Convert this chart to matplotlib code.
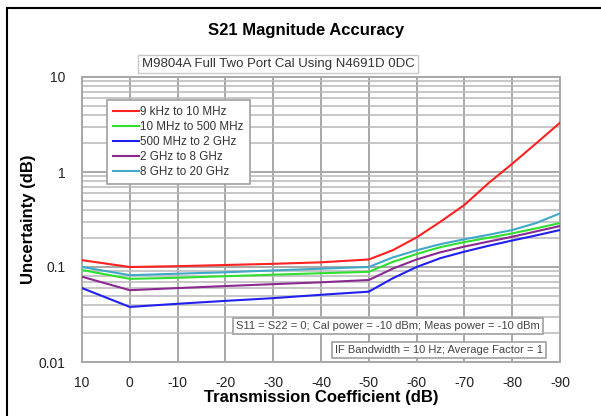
import matplotlib.pyplot as plt
from matplotlib.ticker import FixedLocator, FixedFormatter, LogLocator, NullFormatter
from matplotlib.lines import Line2D

plt.rcParams['font.family'] = ['Liberation Sans', 'DejaVu Sans']

# Transmission coefficient (dB)
trans = [10, 0, -10, -20, -30, -40, -50, -55, -60, -65, -70, -75, -80, -85, -90]

# Uncertainty (dB) per frequency band
red = [0.118, 0.100, 0.102, 0.105, 0.108, 0.112, 0.120, 0.150, 0.205, 0.30, 0.45,
       0.76, 1.22, 2.0, 3.3]
green = [0.093, 0.075, 0.077, 0.080, 0.083, 0.086, 0.089, 0.113, 0.137, 0.162, 0.183,
         0.203, 0.226, 0.255, 0.29]
blue = [0.060, 0.038, 0.041, 0.044, 0.047, 0.051, 0.055, 0.076, 0.100, 0.124, 0.145,
        0.167, 0.190, 0.215, 0.245]
purple = [0.079, 0.057, 0.060, 0.063, 0.066, 0.069, 0.073, 0.096, 0.120, 0.143, 0.164,
          0.185, 0.208, 0.237, 0.27]
cyan = [0.100, 0.082, 0.085, 0.088, 0.092, 0.096, 0.100, 0.126, 0.150, 0.174, 0.196,
        0.218, 0.245, 0.290, 0.367]

labels = ['9 kHz to 10 MHz', '10 MHz to 500 MHz', '500 MHz to 2 GHz',
          '2 GHz to 8 GHz', '8 GHz to 20 GHz']
colors = ['#ff2020', '#30e030', '#2020f0', '#8a2a90', '#40a8c8']

x_ticks = [10, 0, -10, -20, -30, -40, -50, -60, -70, -80, -90]
y_ticks = [0.01, 0.1, 1, 10]
y_tick_labels = ['0.01', '0.1', '1', '10']

fig = plt.figure(figsize=(6.01, 4.16), dpi=100)
ax = fig.add_axes([82 / 601, 1 - 362 / 416, 478 / 601, 285 / 416])

# outer frame (left and top edge only)
fig.add_artist(Line2D([7 / 601, 7 / 601], [0, 1 - 8 / 416], transform=fig.transFigure,
                      color='black', lw=1.5))
fig.add_artist(Line2D([7 / 601, 1], [1 - 8 / 416, 1 - 8 / 416], transform=fig.transFigure,
                      color='black', lw=1.5))

series = [red, green, blue, purple, cyan]
for vals, col, lab in zip(series, colors, labels):
    ax.plot(trans, vals, color=col, lw=1.5, label=lab, zorder=3)

ax.set_yscale('log')
ax.set_xlim(10, -90)
ax.set_ylim(0.01, 10)
ax.xaxis.set_major_locator(FixedLocator(x_ticks))
ax.set_xticklabels([str(t) for t in x_ticks])
ax.yaxis.set_major_locator(FixedLocator(y_ticks))
ax.yaxis.set_major_formatter(FixedFormatter(y_tick_labels))
ax.yaxis.set_minor_locator(LogLocator(base=10, subs=range(2, 10)))
ax.yaxis.set_minor_formatter(NullFormatter())
ax.tick_params(which='both', length=0, labelsize=10, colors='#222222')
ax.tick_params(axis='x', pad=10)
ax.tick_params(axis='y', pad=12)

ax.grid(which='major', color='#a8a8a8', lw=1.4)
ax.grid(which='minor', axis='y', color='#b8b8b8', lw=1.1)
for s in ax.spines.values():
    s.set_color('#a8a8a8')
    s.set_linewidth(1.4)

ax.set_xlabel('Transmission Coefficient (dB)', fontsize=12, fontweight='bold', labelpad=0)
ax.set_ylabel('Uncertainty (dB)', fontsize=12, fontweight='bold', labelpad=2)
fig.text(306 / 601, 1 - 30 / 416, 'S21 Magnitude Accuracy', ha='center', va='center',
         fontsize=12, fontweight='bold')
fig.text(278 / 601, 1 - 64 / 416, 'M9804A Full Two Port Cal Using N4691D 0DC',
         ha='center', va='center', fontsize=9.5, color='#333333',
         bbox=dict(boxstyle='square,pad=0.25', fc='white', ec='#c8c8c8', lw=1))

box = dict(boxstyle='square,pad=0.25', fc='white', ec='#a0a0a0', lw=1.2)
fig.text(388 / 601, 1 - 326 / 416,
         'S11 = S22 = 0; Cal power = -10 dBm; Meas power = -10 dBm',
         ha='center', va='center', fontsize=8, color='#444444', bbox=box)
fig.text(439 / 601, 1 - 350 / 416, 'IF Bandwidth = 10 Hz; Average Factor = 1',
         ha='center', va='center', fontsize=8, color='#444444', bbox=box)

leg = ax.legend(loc='upper left', bbox_to_anchor=(0.052, 0.92), fontsize=8.4,
                handlelength=2.2, handletextpad=0.1, labelspacing=0.25,
                fancybox=False, framealpha=1, borderpad=0.55, borderaxespad=0)
leg.get_frame().set_edgecolor('#a0a0a0')
leg.get_frame().set_linewidth(1.2)
for t in leg.get_texts():
    t.set_color('#333333')

plt.savefig('out.png', dpi=100)
